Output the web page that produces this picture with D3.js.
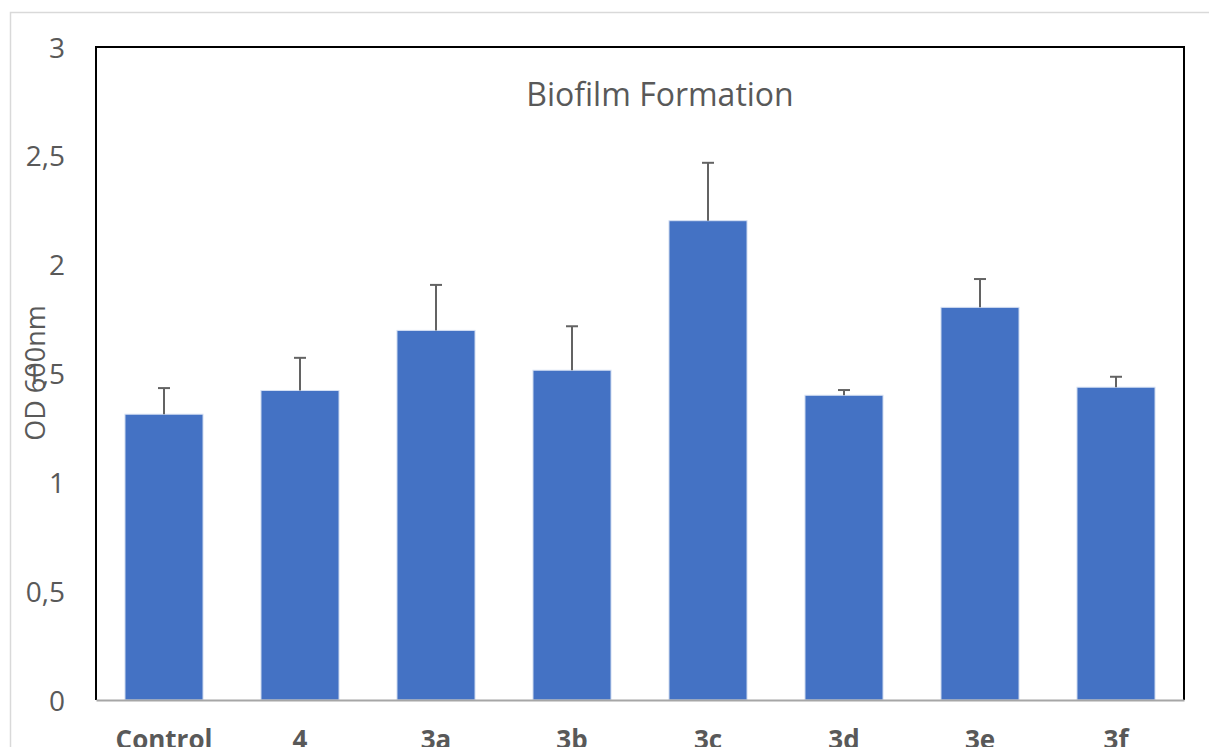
<!DOCTYPE html>
<html>
<head>
<meta charset="utf-8">
<script src="https://cdn.jsdelivr.net/npm/d3@7/dist/d3.min.js"></script>
<style>
  html, body { margin: 0; padding: 0; background: #fff; overflow: hidden; }
  svg { display: block; }
</style>
</head>
<body>
<svg id="chart" width="1209" height="747"></svg>
<script>
const categories = ["Control", "4", "3a", "3b", "3c", "3d", "3e", "3f"];
const values = [1.313, 1.422, 1.698, 1.515, 2.202, 1.400, 1.804, 1.437];
const errors = [0.120, 0.150, 0.209, 0.202, 0.266, 0.024, 0.130, 0.048];
const yTicks = [0, 0.5, 1, 1.5, 2, 2.5, 3];
const titleText = "Biofilm Formation";
const yLabel = "OD 600nm";

(function () {
const svg = d3.select("#chart");
const pLeft = 96, pRight = 1184, pTop = 47, pBottom = 700;
const font = "'Open Sans', 'Noto Sans', sans-serif";
const textColor = "#595959";

// outer chart border
svg.append("rect")
  .attr("x", 10.5).attr("y", 12.5)
  .attr("width", 1400).attr("height", 900)
  .attr("fill", "#fff").attr("stroke", "#d9d9d9").attr("stroke-width", 1.5);

const x = d3.scaleBand().domain(categories).range([pLeft, pRight]).paddingInner(0.426).paddingOuter(0.213);
const y = d3.scaleLinear().domain([0, 3]).range([pBottom, pTop]);

// bars
svg.append("g").selectAll("rect")
  .data(categories)
  .join("rect")
  .attr("x", d => x(d))
  .attr("y", (d, i) => y(values[i]))
  .attr("width", x.bandwidth())
  .attr("height", (d, i) => y(0) - y(values[i]))
  .attr("fill", "#4472C4")
  .attr("stroke", "#d6e0f3")
  .attr("stroke-width", 1);

// error bars (upper only)
const eb = svg.append("g").attr("stroke", "#636363").attr("stroke-width", 2);
categories.forEach((c, i) => {
  const cx = x(c) + x.bandwidth() / 2;
  eb.append("line").attr("x1", cx).attr("x2", cx)
    .attr("y1", y(values[i])).attr("y2", y(values[i] + errors[i]));
  eb.append("line").attr("x1", cx - 6).attr("x2", cx + 6)
    .attr("y1", y(values[i] + errors[i])).attr("y2", y(values[i] + errors[i]));
});

// plot frame: left, top, right black
svg.append("path")
  .attr("d", `M${pLeft},${pBottom} V${pTop} H${pRight} V${pBottom}`)
  .attr("fill", "none").attr("stroke", "#000").attr("stroke-width", 2);

// x axis
const xAxis = svg.append("g")
  .attr("transform", `translate(0,${pBottom})`)
  .call(d3.axisBottom(x).tickSize(0).tickPadding(0));
xAxis.select(".domain").attr("stroke", "#a6a6a6").attr("stroke-width", 2);
xAxis.selectAll("text")
  .attr("y", 49).attr("dy", 0)
  .attr("fill", textColor)
  .style("font-family", font)
  .style("font-size", "26px")
  .style("font-weight", "bold");

// y axis tick labels
const fmt = d => String(d).replace(".", ",");
const yAxis = svg.append("g")
  .attr("transform", `translate(${pLeft},0)`)
  .call(d3.axisLeft(y).tickValues(yTicks).tickFormat(fmt).tickSize(0).tickPadding(31));
yAxis.select(".domain").remove();
yAxis.selectAll("text")
  .attr("fill", textColor)
  .attr("dy", "0.36em")
  .style("font-family", font)
  .style("font-size", "28px");

// title
svg.append("text")
  .attr("x", 660).attr("y", 106)
  .attr("text-anchor", "middle")
  .attr("fill", textColor)
  .style("font-family", font)
  .style("font-size", "32px")
  .text(titleText);

// y label
svg.append("text")
  .attr("transform", "translate(45,373) rotate(-90)")
  .attr("text-anchor", "middle")
  .attr("fill", textColor)
  .style("font-family", font)
  .style("font-size", "27px")
  .text(yLabel);
})();
</script>
</body>
</html>
